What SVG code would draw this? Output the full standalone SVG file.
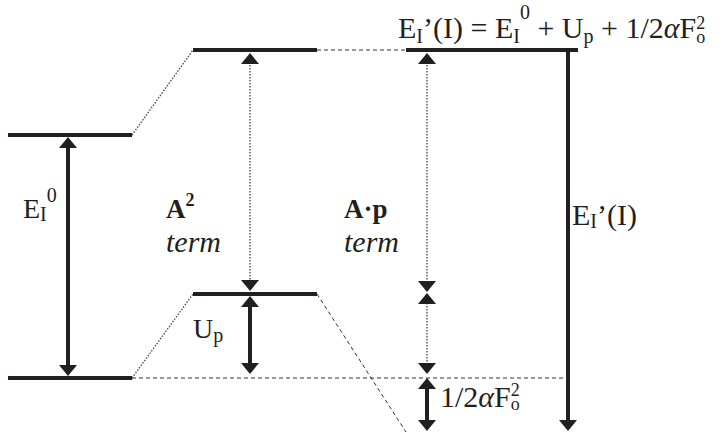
<svg xmlns="http://www.w3.org/2000/svg" xmlns:xlink="http://www.w3.org/1999/xlink" width="724" height="433" viewBox="0 0 724 433">
<style>
.t{font-family:"Liberation Serif","Times New Roman",serif;font-size:28px;fill:#231f20}
.big{font-size:30px}
.sub{font-size:20px}
.sup{font-size:20px}
.ss{font-size:18px}
.b{font-weight:bold;font-size:27px}
.i{font-style:italic}
.lv{stroke:#231f20;stroke-width:4;fill:none}
.sh{stroke:#231f20;stroke-width:4;fill:none}
.dot{stroke:#444;stroke-width:1.3;stroke-dasharray:1.5 1.5;fill:none}
.dash{stroke:#333;stroke-width:1;stroke-dasharray:4 3;fill:none}
.hd{fill:#231f20}
</style>
<defs>
<path id="up" d="M0,0 L9,11 L-9,11 Z"/>
<path id="dn" d="M0,0 L-9,-11 L9,-11 Z"/>
</defs>
<g id="connectors">
<line class="dot" x1="132" y1="135" x2="193" y2="50"/>
<line class="dot" x1="132" y1="378" x2="193" y2="294"/>
<line class="dash" x1="317" y1="50" x2="406" y2="50"/>
<line class="dash" x1="132" y1="378" x2="568" y2="378"/>
<line class="dash" x1="317" y1="294" x2="406" y2="432"/>
</g>
<g id="level-left-upper"><line class="lv" x1="8" y1="135" x2="132" y2="135"/></g>
<g id="level-left-lower"><line class="lv" x1="8" y1="378" x2="132" y2="378"/></g>
<g id="level-mid-upper"><line class="lv" x1="193" y1="50" x2="317" y2="50"/></g>
<g id="level-mid-lower"><line class="lv" x1="193" y1="294" x2="317" y2="294"/></g>
<g id="level-right-upper"><line class="lv" x1="406" y1="50" x2="578" y2="50"/></g>
<g id="arrow-EI0">
<line class="sh" x1="68" y1="145" x2="68" y2="368"/>
<use class="hd" xlink:href="#up" x="68" y="137"/>
<use class="hd" xlink:href="#dn" x="68" y="376"/>
</g>
<g id="arrow-A2">
<line class="dot" x1="250" y1="62" x2="250" y2="282"/>
<use class="hd" xlink:href="#up" x="250" y="53"/>
<use class="hd" xlink:href="#dn" x="250" y="291"/>
</g>
<g id="arrow-Up">
<line class="sh" x1="250" y1="305" x2="250" y2="366"/>
<use class="hd" xlink:href="#up" x="250" y="296"/>
<use class="hd" xlink:href="#dn" x="250" y="374"/>
</g>
<g id="arrow-Ap">
<line class="dot" x1="427" y1="62" x2="427" y2="283"/>
<use class="hd" xlink:href="#up" x="427" y="53"/>
<use class="hd" xlink:href="#dn" x="427" y="292"/>
<line class="dot" x1="427" y1="303" x2="427" y2="366"/>
<use class="hd" xlink:href="#up" x="427" y="293"/>
<use class="hd" xlink:href="#dn" x="427" y="374"/>
</g>
<g id="arrow-half">
<line class="sh" x1="427" y1="387" x2="427" y2="422"/>
<use class="hd" xlink:href="#up" x="427" y="378"/>
<use class="hd" xlink:href="#dn" x="427" y="431"/>
</g>
<g id="arrow-EI">
<line class="sh" x1="568" y1="52" x2="568" y2="421"/>
<use class="hd" xlink:href="#dn" x="568" y="431"/>
</g>
<g id="labels">
<text class="t big" x="398" y="38">E<tspan class="sub" dy="5">I</tspan><tspan dy="-5">’(I) = E</tspan><tspan class="sub" dy="5">I</tspan><tspan class="sup" dy="-24">0</tspan><tspan dy="19">  + U</tspan><tspan class="sub" dy="5">p</tspan><tspan dy="-5"> + 1/2</tspan><tspan class="i">α</tspan>F<tspan class="ss" dy="5">o</tspan><tspan class="ss" dx="-9" dy="-14">2</tspan></text>
<text class="t" x="23" y="218">E<tspan class="sub" dy="3">I</tspan><tspan class="sup" dy="-19">0</tspan></text>
<text class="t b" x="166" y="218">A<tspan font-size="18" dy="-12">2</tspan></text>
<text class="t i big" x="166" y="252">term</text>
<text class="t b" x="344" y="218">A·p</text>
<text class="t i big" x="344" y="252">term</text>
<text class="t big" x="572" y="225">E<tspan class="sub" dy="3">I</tspan><tspan dy="-3">’(I)</tspan></text>
<text class="t" x="193" y="338">U<tspan class="sub" dy="4">p</tspan></text>
<text class="t big" x="440" y="407">1/2<tspan class="i">α</tspan>F<tspan class="ss" dy="3">o</tspan><tspan class="ss" dx="-9" dy="-14">2</tspan></text>
</g>
</svg>
